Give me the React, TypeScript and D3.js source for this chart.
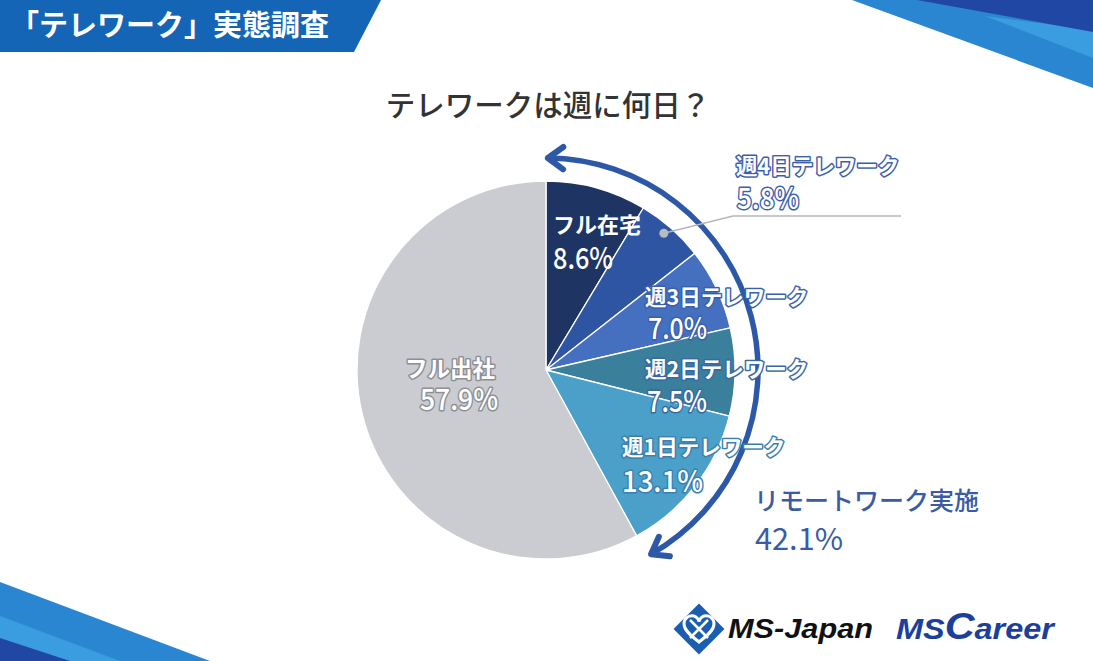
import React from "react";
import * as d3 from "d3";

const categories = ["フル在宅", "週4日テレワーク", "週3日テレワーク", "週2日テレワーク", "週1日テレワーク", "フル出社"];
const values = [8.6, 5.8, 7.0, 7.5, 13.1, 57.9];
const valueLabels = ["8.6%", "5.8%", "7.0%", "7.5%", "13.1%", "57.9%"];
const sliceColors = ["#1e3563", "#2d55a2", "#4570bf", "#3a7f9c", "#4aa0c9", "#cbccd1"];
const remoteLabel = "リモートワーク実施";
const remoteValue = "42.1%";
const chartTitle = "テレワークは週に何日？";
const headerTitle = "「テレワーク」実態調査";

// label layout (styling / placement only)
const labelLayout = [
  { x: 553, y: 233, vx: 553, vy: 269, vw: 60, stroke: "none", size: 22, w: 700 },
  { x: 736, y: 174, vx: 737, vy: 209, vw: 62, stroke: "#3b5fab", size: 21.5, w: 600 },
  { x: 645, y: 305, vx: 648, vy: 339, vw: 59, stroke: "#3b5fab", size: 21.5, w: 600 },
  { x: 645, y: 377, vx: 647, vy: 412, vw: 60, stroke: "#3b68a0", size: 21.5, w: 600 },
  { x: 622, y: 455, vx: 622, vy: 492, vw: 81, stroke: "#3b7fae", size: 21.5, w: 600 },
  { x: 405, y: 377, vx: 420, vy: 410, vw: 78, stroke: "#8d8f95", size: 22.5, w: 600 },
];

const W = 1093;
const H = 661;
const cx = 546;
const cy = 370;
const R = 189;
const FONT = "'Noto Sans CJK JP', 'Noto Sans', sans-serif";

export default function App() {
  const pie = d3.pie<number>().sort(null).value((d) => d).startAngle(0).endAngle(2 * Math.PI);
  const arcs = pie(values);
  const arcGen = d3.arc<d3.PieArcDatum<number>>().innerRadius(0).outerRadius(R);

  // arrow arc
  const rA = 212;
  const toRad = (deg: number) => (deg * Math.PI) / 180;
  const a0 = toRad(0.5);
  const a1 = toRad(150.3);
  const pt = (a: number, r: number) => [cx + r * Math.sin(a), cy - r * Math.cos(a)];
  const p = d3.path();
  const s = pt(a0, rA);
  p.moveTo(s[0], s[1]);
  p.arc(cx, cy, rA, a0 - Math.PI / 2, a1 - Math.PI / 2, false);

  const head = (a: number, dir: number) => {
    const tip = pt(a, rA);
    const tx = Math.cos(a) * dir;
    const ty = Math.sin(a) * dir;
    const bx = -tx;
    const by = -ty;
    const L = 19;
    const ang = toRad(36);
    const r1 = [bx * Math.cos(ang) - by * Math.sin(ang), bx * Math.sin(ang) + by * Math.cos(ang)];
    const r2 = [bx * Math.cos(-ang) - by * Math.sin(-ang), bx * Math.sin(-ang) + by * Math.cos(-ang)];
    return `M${tip[0] + r1[0] * L},${tip[1] + r1[1] * L}L${tip[0]},${tip[1]}L${tip[0] + r2[0] * L},${tip[1] + r2[1] * L}`;
  };

  // leader for 週4日
  const a4 = arcs[1];
  const mid4 = (a4.startAngle + a4.endAngle) / 2;
  const dot = pt(mid4 - 0.012, R * 0.955);

  return (
    <svg width={W} height={H} viewBox={`0 0 ${W} ${H}`} style={{ display: "block", position: "absolute", left: 0, top: 0 }}>
      <rect width={W} height={H} fill="#ffffff" />
      {/* corner decorations */}
      <polygon points="852,0 1093,0 1093,88" fill="#2a86d0" />
      <polygon points="985,16 1093,30 1093,58" fill="#3a9de0" />
      <polygon points="917,0 1093,0 1093,32" fill="#2147a5" />
      <polygon points="0,582 210,661 0,661" fill="#2a86d0" />
      <polygon points="0,616 120,661 0,661" fill="#3a9de0" />
      <polygon points="0,638 70,661 0,661" fill="#2147a5" />
      {/* header */}
      <polygon points="0,0 381,0 354,52 0,52" fill="#1565b7" />
      <text x={10} y={36} fontFamily={FONT} fontSize={29} fontWeight={700} fill="#ffffff">
        {headerTitle}
      </text>
      <text x={548} y={116} textAnchor="middle" fontFamily={FONT} fontSize={29.5} fontWeight={500} fill="#333333">
        {chartTitle}
      </text>
      {/* pie */}
      <g transform={`translate(${cx},${cy})`}>
        {arcs.map((a, i) => (
          <path key={i} d={arcGen(a) || ""} fill={sliceColors[i]} stroke="#ffffff" strokeWidth={1.3} strokeLinejoin="round" />
        ))}
      </g>
      {/* arrow */}
      <path d={p.toString()} fill="none" stroke="#2c58a7" strokeWidth={5.5} />
      <path d={head(a0, -1)} fill="none" stroke="#2c58a7" strokeWidth={6} strokeLinecap="round" strokeLinejoin="round" />
      <path d={head(a1, 1)} fill="none" stroke="#2c58a7" strokeWidth={6} strokeLinecap="round" strokeLinejoin="round" />
      {/* leader line */}
      <polyline points={`${dot[0]},${dot[1]} 733,216 901,216`} fill="none" stroke="#b3b6bc" strokeWidth={1.5} />
      <circle cx={dot[0]} cy={dot[1]} r={4.5} fill="#b8bbc1" />
      {/* labels */}
      {categories.map((c, i) => {
        const l = labelLayout[i];
        return (
          <g key={c} fontFamily={FONT} fill="#ffffff" stroke={l.stroke} strokeWidth={l.stroke === "none" ? 0 : 3} strokeLinejoin="round" style={{ paintOrder: "stroke" }}>
            <text x={l.x} y={l.y} fontSize={l.size} fontWeight={l.w}>{c}</text>
            <text x={l.vx} y={l.vy} fontSize={29} fontWeight={500} textLength={l.vw} lengthAdjust="spacingAndGlyphs">
              {valueLabels[i]}
            </text>
          </g>
        );
      })}
      <text x={754} y={510} fontFamily={FONT} fontSize={25} fontWeight={500} fill="#3a5ba6">{remoteLabel}</text>
      <text x={755} y={550} fontFamily={FONT} fontSize={30} fontWeight={400} fill="#3a5ba6" textLength={88} lengthAdjust="spacingAndGlyphs">{remoteValue}</text>
      {/* logos */}
      <g transform="translate(699,629)">
        <rect x={-18} y={-18} width={36} height={36} transform="rotate(45)" fill="#1b5dae" />
        <path d="M0,13 C-6,8 -15,2 -15,-5 C-15,-11 -10,-14 -5,-13 C-2,-12 0,-9 0,-7 C0,-9 2,-12 5,-13 C10,-14 15,-11 15,-5 C15,2 6,8 0,13 Z" fill="none" stroke="#ffffff" strokeWidth={3} />
        <path d="M-9,-9 L9,9 M9,-9 L-9,9" stroke="#ffffff" strokeWidth={2.5} fill="none" />
      </g>
      <text x={728} y={638} fontFamily="'Liberation Sans', Arial, sans-serif" fontSize={28} fontWeight={700} fontStyle="italic" fill="#111111" textLength={145} lengthAdjust="spacingAndGlyphs">
        MS-Japan
      </text>
      <text x={896} y={639} fontFamily="'Liberation Sans', Arial, sans-serif" fontWeight={700} fontStyle="italic" fill="#1c3f9b" textLength={158} lengthAdjust="spacingAndGlyphs">
        <tspan fontSize={29}>MS</tspan>
        <tspan fontSize={37}>C</tspan>
        <tspan fontSize={29}>areer</tspan>
      </text>
    </svg>
  );
}
